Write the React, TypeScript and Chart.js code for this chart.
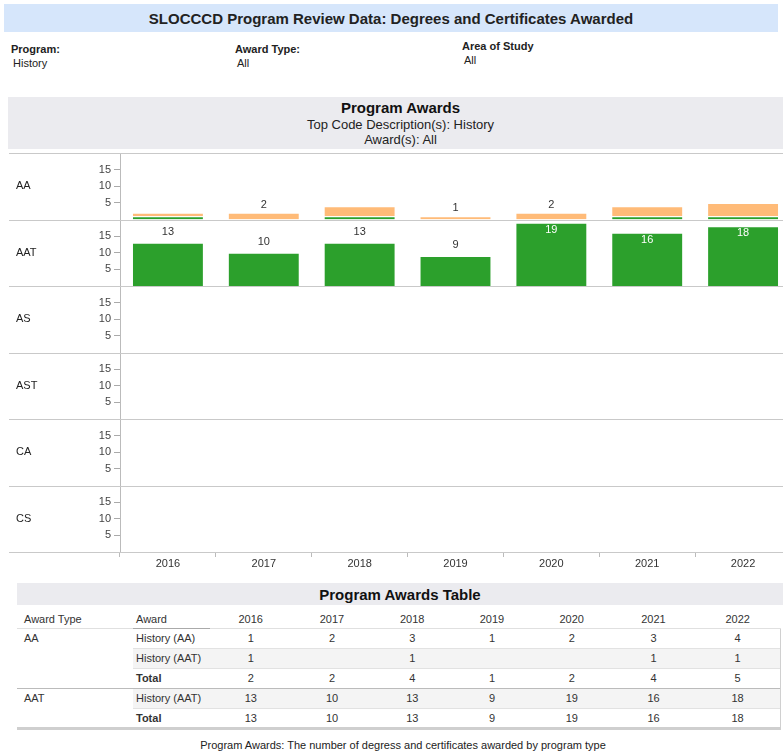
import React, { useEffect, useRef } from 'react';
import { Chart, registerables } from 'chart.js';

Chart.register(...registerables);

const FONT = '"Liberation Sans", Arial, Helvetica, sans-serif';

const years = ['2016', '2017', '2018', '2019', '2020', '2021', '2022'];
const awardTypes = ['AA', 'AAT', 'AS', 'AST', 'CA', 'CS'];
const yTickValues = [5, 10, 15];
const yMax = 20;

// AA award type
const aaHistoryAA: (number | null)[] = [1, 2, 3, 1, 2, 3, 4];
const aaHistoryAAT: (number | null)[] = [1, null, 1, null, null, 1, 1];
const aaTotal: number[] = [2, 2, 4, 1, 2, 4, 5];
// AAT award type
const aatHistoryAAT: (number | null)[] = [13, 10, 13, 9, 19, 16, 18];
const aatTotal: number[] = [13, 10, 13, 9, 19, 16, 18];

const GREEN = '#2ca02c';
const ORANGE = '#ffbb78';

const fmt = (v: number | null) => (v === null || v === undefined ? '' : String(v));

const panelPlugin = {
  id: 'panelPlugin',
  afterDatasetsDraw(chart: any) {
    const ctx = chart.ctx;
    ctx.save();
    ctx.font = `11px ${FONT}`;
    ctx.textAlign = 'center';
    ctx.textBaseline = 'middle';
    // AA panel labels: total over single-segment stacks
    const orangeMeta = chart.getDatasetMeta(1);
    orangeMeta.data.forEach((el: any, i: number) => {
      if (aaHistoryAAT[i] === null && aaHistoryAA[i] !== null) {
        ctx.fillStyle = '#333';
        ctx.fillText(String(aaTotal[i]), el.x, el.y - 8);
      }
    });
    // AAT panel labels
    const aatMeta = chart.getDatasetMeta(2);
    const sc = chart.scales['y1'];
    aatMeta.data.forEach((el: any, i: number) => {
      const v = aatHistoryAAT[i];
      if (v === null) return;
      const above = el.y - 11;
      if (above - 6 < sc.top) {
        ctx.fillStyle = '#ffffff';
        ctx.fillText(String(v), el.x, el.y + 7);
      } else {
        ctx.fillStyle = '#333';
        ctx.fillText(String(v), el.x, above);
      }
    });
    ctx.restore();
  },
  afterDraw(chart: any) {
    const ctx = chart.ctx;
    ctx.save();
    ctx.strokeStyle = '#c9c9c9';
    ctx.lineWidth = 1;
    const ys: number[] = [chart.chartArea.top];
    awardTypes.forEach((_, i) => ys.push(chart.scales['y' + i].bottom));
    ys.forEach((y) => {
      const yy = Math.round(y) + 0.5;
      ctx.beginPath();
      ctx.moveTo(9, yy);
      ctx.lineTo(chart.width, yy);
      ctx.stroke();
    });
    ctx.fillStyle = '#222';
    ctx.font = `11px ${FONT}`;
    ctx.textAlign = 'left';
    ctx.textBaseline = 'middle';
    awardTypes.forEach((t, i) => {
      const s = chart.scales['y' + i];
      ctx.fillText(t, 16, (s.top + s.bottom) / 2);
    });
    ctx.restore();
  },
};

function ChartPanel() {
  const ref = useRef<HTMLCanvasElement | null>(null);
  useEffect(() => {
    if (!ref.current) return;
    const scales: any = {
      x: {
        type: 'category',
        stacked: true,
        offset: true,
        grid: { offset: true, drawOnChartArea: false, tickLength: 5, color: '#bbb' },
        border: { display: false },
        ticks: { padding: 0, color: '#333', font: { size: 11, family: FONT }, maxRotation: 0 },
        afterFit: (s: any) => {
          s.height = 18;
          s.paddingLeft = 0;
          s.paddingRight = 0;
        },
      },
    };
    awardTypes.forEach((_, i) => {
      scales['y' + i] = {
        type: 'linear',
        position: 'left',
        stack: 'rows',
        stackWeight: 1,
        weight: awardTypes.length - i,
        stacked: true,
        min: 0,
        max: yMax,
        afterBuildTicks: (s: any) => {
          s.ticks = yTickValues.map((v) => ({ value: v }));
        },
        afterFit: (s: any) => {
          s.width = 120;
          s.paddingTop = 0;
          s.paddingBottom = 0;
        },
        grid: { drawOnChartArea: false, tickLength: 6, color: '#aaa' },
        border: { color: '#bbb' },
        ticks: { padding: 3, color: '#444', font: { size: 11, family: FONT } },
      };
    });
    const chart = new Chart(ref.current, {
      type: 'bar',
      data: {
        labels: years,
        datasets: [
          {
            label: 'History (AAT)',
            data: aaHistoryAAT,
            yAxisID: 'y0',
            stack: 's',
            backgroundColor: GREEN,
            borderColor: 'rgba(255,255,255,0.35)',
            borderWidth: 1,
          },
          {
            label: 'History (AA)',
            data: aaHistoryAA,
            yAxisID: 'y0',
            stack: 's',
            backgroundColor: ORANGE,
            borderColor: 'rgba(255,255,255,0.35)',
            borderWidth: 1,
          },
          {
            label: 'History (AAT)',
            data: aatHistoryAAT,
            yAxisID: 'y1',
            stack: 's',
            backgroundColor: GREEN,
            borderColor: 'rgba(255,255,255,0.35)',
            borderWidth: 1,
          },
        ],
      },
      options: {
        animation: false,
        responsive: false,
        maintainAspectRatio: false,
        layout: { padding: { top: 3, left: 0, right: 0, bottom: 0 } },
        datasets: { bar: { barPercentage: 0.75, categoryPercentage: 1 } } as any,
        plugins: { legend: { display: false }, tooltip: { enabled: false } },
        scales,
      },
      plugins: [panelPlugin],
    });
    return () => chart.destroy();
  }, []);
  return (
    <canvas
      ref={ref}
      width={791}
      height={420}
      style={{ position: 'absolute', left: 0, top: 150, width: 791, height: 420 }}
    />
  );
}

const abs = (left: number, top: number, extra: React.CSSProperties = {}): React.CSSProperties => ({
  position: 'absolute',
  left,
  top,
  ...extra,
});

const colWidths = [116, 77, 81.5, 81, 79.5, 80, 79.5, 84, 84.5];

type Row = { type: string; typeSpan: number; award: string; vals: (number | null)[]; shade: boolean; bold: boolean; groupTop: boolean; last: boolean };

const tableRows: Row[] = [
  { type: 'AA', typeSpan: 3, award: 'History (AA)', vals: aaHistoryAA, shade: false, bold: false, groupTop: false, last: false },
  { type: '', typeSpan: 0, award: 'History (AAT)', vals: aaHistoryAAT, shade: true, bold: false, groupTop: false, last: false },
  { type: '', typeSpan: 0, award: 'Total', vals: aaTotal, shade: false, bold: true, groupTop: false, last: false },
  { type: 'AAT', typeSpan: 2, award: 'History (AAT)', vals: aatHistoryAAT, shade: true, bold: false, groupTop: true, last: false },
  { type: '', typeSpan: 0, award: 'Total', vals: aatTotal, shade: false, bold: true, groupTop: false, last: true },
];

function AwardsTable() {
  const cellBase: React.CSSProperties = {
    height: 20,
    padding: 0,
    fontSize: 11,
    color: '#333',
    verticalAlign: 'middle',
    boxSizing: 'border-box',
  };
  return (
    <table
      style={abs(17, 605, {
        width: 763,
        borderCollapse: 'collapse',
        tableLayout: 'fixed',
        fontFamily: FONT,
      })}
    >
      <colgroup>
        {colWidths.map((w, i) => (
          <col key={i} style={{ width: w }} />
        ))}
      </colgroup>
      <thead>
        <tr style={{ height: 23 }}>
          <th style={{ ...cellBase, height: 23, fontWeight: 'normal', textAlign: 'left', paddingLeft: 7, verticalAlign: 'bottom', paddingBottom: 3, borderBottom: '1px solid #e0e0e0' }}>Award Type</th>
          <th style={{ ...cellBase, height: 23, fontWeight: 'normal', textAlign: 'left', paddingLeft: 3, verticalAlign: 'bottom', paddingBottom: 3, borderBottom: '1px solid #aaa' }}>Award</th>
          {years.map((y) => (
            <th key={y} style={{ ...cellBase, height: 23, fontWeight: 'normal', textAlign: 'center', verticalAlign: 'bottom', paddingBottom: 3, borderBottom: '1px solid #e0e0e0' }}>{y}</th>
          ))}
        </tr>
      </thead>
      <tbody>
        {tableRows.map((r, ri) => {
          const rowTop = r.groupTop ? '1px solid #bbb' : ri === 0 ? undefined : '1px solid #e2e2e2';
          const bottom = r.last ? '3px solid #cfcfcf' : undefined;
          const bg = r.shade ? '#f4f4f4' : '#ffffff';
          return (
            <tr key={ri}>
              {r.typeSpan > 0 && (
                <td
                  rowSpan={r.typeSpan}
                  style={{ ...cellBase, verticalAlign: 'top', paddingTop: 3, paddingLeft: 7, borderTop: r.groupTop ? '1px solid #bbb' : undefined, borderBottom: r.type === 'AAT' ? '3px solid #cfcfcf' : undefined }}
                >
                  {r.type}
                </td>
              )}
              <td style={{ ...cellBase, paddingLeft: 3, fontWeight: r.bold ? 'bold' : 'normal', background: bg, borderTop: rowTop, borderBottom: bottom }}>{r.award}</td>
              {r.vals.map((v, vi) => (
                <td
                  key={vi}
                  style={{
                    ...cellBase,
                    textAlign: 'center',
                    background: bg,
                    borderTop: rowTop,
                    borderBottom: bottom,
                    borderRight: vi === r.vals.length - 1 ? '1px solid #d0d0d0' : undefined,
                  }}
                >
                  {fmt(v)}
                </td>
              ))}
            </tr>
          );
        })}
      </tbody>
    </table>
  );
}

export default function App() {
  return (
    <div
      style={{
        position: 'fixed',
        left: 0,
        top: 0,
        width: 783,
        height: 755,
        overflow: 'hidden',
        background: '#fff',
        fontFamily: FONT,
        color: '#222',
      }}
    >
      <div
        style={abs(4, 4, {
          width: 774,
          height: 28,
          background: '#d6e6fb',
          display: 'flex',
          alignItems: 'center',
          justifyContent: 'center',
          fontWeight: 'bold',
          fontSize: 15,
          color: '#222',
        })}
      >
        SLOCCCD Program Review Data: Degrees and Certificates Awarded
      </div>

      <div style={abs(11, 43, { fontSize: 11, fontWeight: 'bold' })}>Program:</div>
      <div style={abs(13, 57, { fontSize: 11 })}>History</div>
      <div style={abs(235, 43, { fontSize: 11, fontWeight: 'bold' })}>Award Type:</div>
      <div style={abs(237, 57, { fontSize: 11 })}>All</div>
      <div style={abs(462, 40, { fontSize: 11, fontWeight: 'bold' })}>Area of Study</div>
      <div style={abs(464, 54, { fontSize: 11 })}>All</div>

      <div style={abs(8, 97, { width: 775, height: 52, background: '#ebebef' })}>
        <div style={abs(0, 2, { width: 785, textAlign: 'center', fontWeight: 'bold', fontSize: 15, color: '#111' })}>Program Awards</div>
        <div style={abs(0, 19.5, { width: 785, textAlign: 'center', fontSize: 13, color: '#222' })}>Top Code Description(s): History</div>
        <div style={abs(0, 34.5, { width: 785, textAlign: 'center', fontSize: 13, color: '#222' })}>Award(s): All</div>
      </div>

      <ChartPanel />

      <div
        style={abs(17, 583, {
          width: 766,
          height: 22,
          background: '#ebebef',
          display: 'flex',
          alignItems: 'center',
          justifyContent: 'center',
          fontWeight: 'bold',
          fontSize: 15,
          color: '#111',
        })}
      >
        Program Awards Table
      </div>

      <AwardsTable />

      <div style={abs(0, 739, { width: 806, textAlign: 'center', fontSize: 11, color: '#222' })}>
        Program Awards: The number of degress and certificates awarded by program type
      </div>
    </div>
  );
}
